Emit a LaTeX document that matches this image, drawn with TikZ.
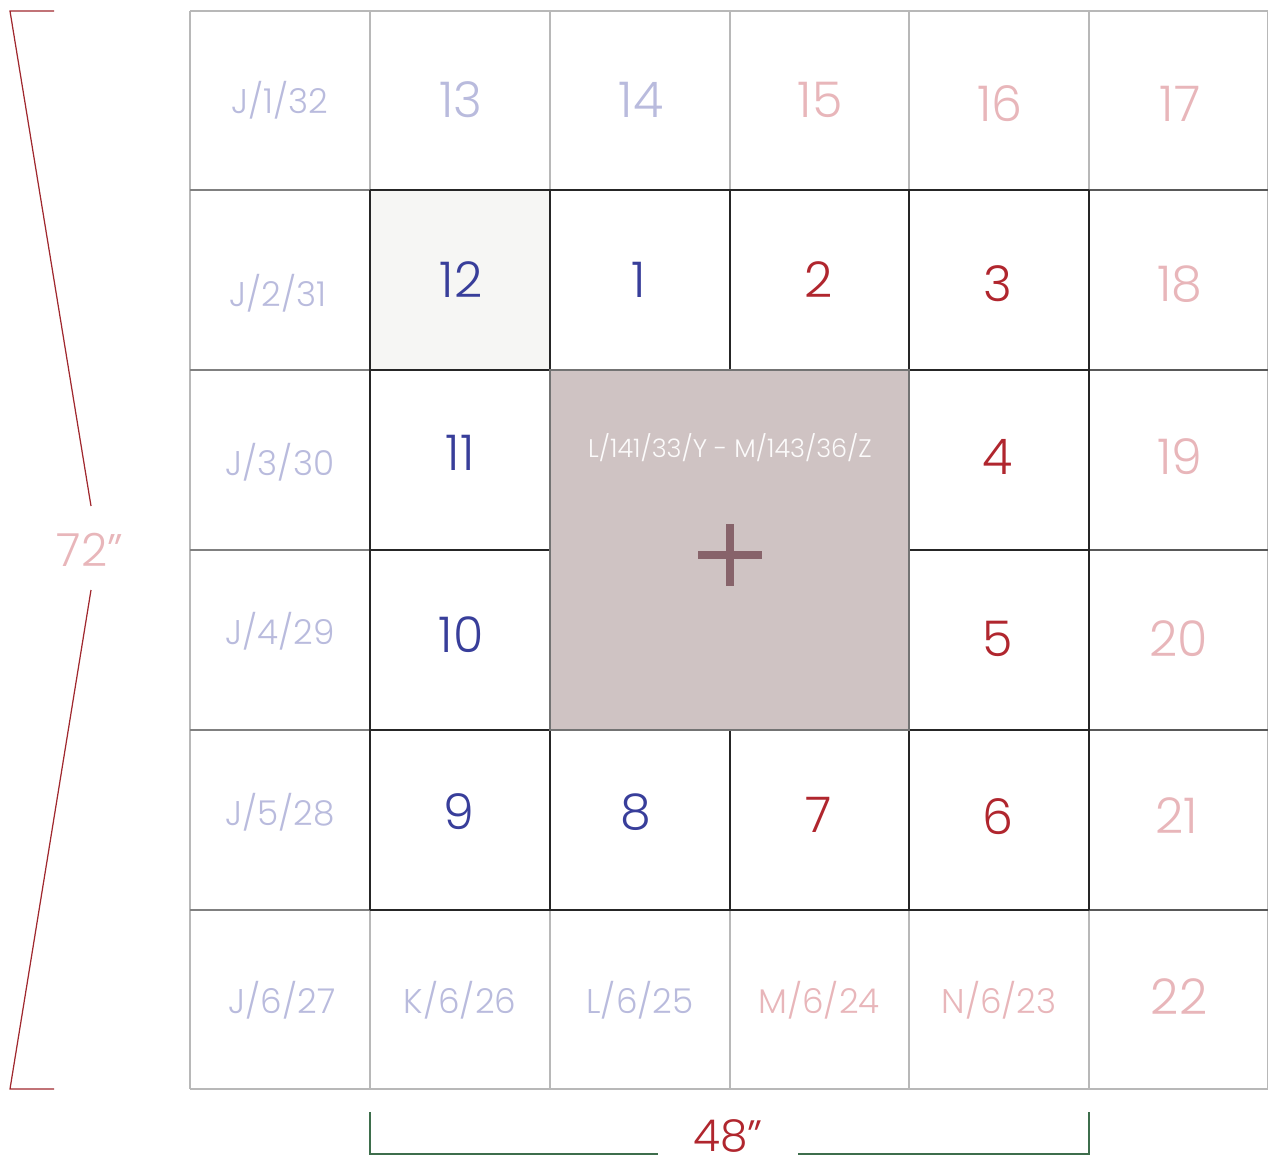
\documentclass[tikz,border=0pt]{standalone}
\usepackage{fontspec}
\setmainfont{Poppins}[UprightFont={* Light}]
\definecolor{navy}{HTML}{383E9A}
\definecolor{crim}{HTML}{B0262E}
\definecolor{lav}{HTML}{B9BBDD}
\definecolor{pinkl}{HTML}{E8B6BA}
\definecolor{mauve}{HTML}{CFC3C3}
\definecolor{plum}{HTML}{87636A}
\definecolor{paper}{HTML}{F6F6F4}
\definecolor{brk}{HTML}{A0282E}
\definecolor{grn}{HTML}{3E6E4C}
\tikzset{
  big/.style={font=\fontsize{28}{30}\selectfont},
  small/.style={font=\fontsize{19.5}{21}\selectfont},
  lightline/.style={draw=black!28, line width=0.6pt},
  midline/.style={draw=black!50, line width=0.7pt},
  darkline/.style={draw=black!85, line width=0.8pt},
}
\begin{document}
\begin{tikzpicture}[x=0.02cm,y=-0.02cm]
\useasboundingbox (0,0) rectangle (1268,1166);
% fills
\fill[paper] (370,190) rectangle (550,370);
% outer grid light
\foreach \x in {190,370,550,730,909,1089,1268} \draw[lightline] (\x,11) -- (\x,1089);
\foreach \y in {11,190,370,550,730,910,1089} \draw[lightline] (190,\y) -- (1268,\y);
\fill[mauve] (550,370) rectangle (909,730);
% left and right column horizontals
\foreach \y in {190,370,550,730,910} {
  \draw[midline] (190,\y) -- (370,\y);
  \draw[draw=black!65, line width=0.8pt] (1089,\y) -- (1268,\y);
}
% inner ring dark lines
\foreach \x in {370,1089} \draw[darkline] (\x,190) -- (\x,910);
\foreach \y in {190,910} \draw[darkline] (370,\y) -- (1089,\y);
\draw[darkline] (550,190) -- (550,910);
\draw[darkline] (909,190) -- (909,910);
\draw[darkline] (730,190) -- (730,370);
\draw[darkline] (730,730) -- (730,910);
\draw[darkline] (370,370) -- (1089,370);
\draw[darkline] (370,730) -- (1089,730);
\draw[darkline] (370,550) -- (550,550);
\draw[darkline] (909,550) -- (1089,550);
\draw[draw=black!55, line width=0.7pt] (550,370) rectangle (909,730);
% plus
\fill[plum] (698,551) rectangle (762,559);
\fill[plum] (726,524) rectangle (734,586);
\node[text=white!94!mauve, font=\fontsize{14.5}{16}\selectfont] (ctr) at (730,448) {L/141/33/Y - M/143/36/Z};
% row 1
\node[small, text=lav] (j1) at (280,100) {J/1/32};
\node[big, text=lav] (n13) at (461,100) {13};
\node[big, text=lav] (n14) at (641,100) {14};
\node[big, text=pinkl] (n15) at (820,100) {15};
\node[big, text=pinkl] (n16) at (1000,104) {16};
\node[big, text=pinkl] (n17) at (1180,104) {17};
% row 2
\node[small, text=lav] (j2) at (278,293) {J/2/31};
\node[big, text=navy] (n12) at (461,280) {12};
\node[big, text=navy] (n1) at (639,280) {1};
\node[big, text=crim] (n2) at (819,280) {2};
\node[big, text=crim] (n3) at (998,284) {3};
\node[big, text=pinkl] (n18) at (1180,284) {18};
% row 3
\node[small, text=lav] (j3) at (280,462) {J/3/30};
\node[big, text=navy] (n11) at (460,453) {11};
\node[big, text=crim] (n4) at (998,457) {4};
\node[big, text=pinkl] (n19) at (1180,457) {19};
% row 4
\node[small, text=lav] (j4) at (280,631) {J/4/29};
\node[big, text=navy] (n10) at (461,635) {10};
\node[big, text=crim] (n5) at (998,639) {5};
\node[big, text=pinkl] (n20) at (1179,639) {20};
% row 5
\node[small, text=lav] (j5) at (280,812) {J/5/28};
\node[big, text=navy] (n9) at (459,812) {9};
\node[big, text=navy] (n8) at (636,812) {8};
\node[big, text=crim] (n7) at (819,815) {7};
\node[big, text=crim] (n6) at (998,817) {6};
\node[big, text=pinkl] (n21) at (1177,816) {21};
% row 6
\node[small, text=lav] (j6) at (282,1000) {J/6/27};
\node[small, text=lav] (k6) at (460,1000) {K/6/26};
\node[small, text=lav] (l6) at (640,1000) {L/6/25};
\node[small, text=pinkl] (m6) at (819,1000) {M/6/24};
\node[small, text=pinkl] (nn6) at (999,1000) {N/6/23};
\node[big, text=pinkl] (n22) at (1179,997) {22};
% dimension 72
\node[text=pinkl, font=\fontsize{26}{28}\selectfont] (d72) at (90,550) {72"};
\coordinate (lt) at (54,11);
\coordinate (ltc) at (10,11);
\coordinate (lm1) at (91,506);
\coordinate (lm2) at (91,590);
\coordinate (lbc) at (10,1089);
\coordinate (lb) at (54,1089);
\draw[brk, line width=0.7pt] (lt) -- (ltc) -- (lm1);
\draw[brk, line width=0.7pt] (lm2) -- (lbc) -- (lb);
% dimension 48
\node[text=crim, font=\fontsize{25}{27}\selectfont, inner sep=0pt, anchor=base] (d48) at (728,1151) {48"};
\coordinate (bl) at (370,1112);
\coordinate (blc) at (370,1154);
\coordinate (bm1) at (658,1154);
\coordinate (bm2) at (798,1154);
\coordinate (brc) at (1089,1154);
\coordinate (br) at (1089,1112);
\draw[grn, line width=0.7pt] (bl) -- (blc) -- (bm1);
\draw[grn, line width=0.7pt] (bm2) -- (brc) -- (br);
\end{tikzpicture}
\end{document}
